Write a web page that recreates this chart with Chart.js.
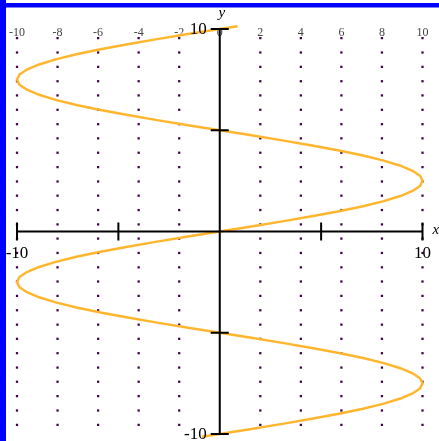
<!DOCTYPE html>
<html>
<head>
<meta charset="utf-8">
<script src="https://cdn.jsdelivr.net/npm/chart.js@4.4.1/dist/chart.umd.min.js"></script>
<style>
  html, body { margin: 0; padding: 0; background: #fff; overflow: hidden; }
  #plot { display: block; }
</style>
</head>
<body>
<canvas id="plot" width="439" height="441"></canvas>
<script>
  // curve samples (x against y), one point every 0.25 in y
  const curveY = [
    -10.14, -10, -9.75, -9.5, -9.25, -9, -8.75, -8.5, -8.25, -8, -7.75, -7.5, -7.25, -7, -6.75, -6.5, -6.25,
    -6, -5.75, -5.5, -5.25, -5, -4.75, -4.5, -4.25, -4, -3.75, -3.5, -3.25, -3, -2.75, -2.5, -2.25,
    -2, -1.75, -1.5, -1.25, -1, -0.75, -0.5, -0.25, 0,
    0.25, 0.5, 0.75, 1, 1.25, 1.5, 1.75, 2, 2.25, 2.5, 2.75, 3, 3.25, 3.5, 3.75, 4, 4.25, 4.5, 4.75,
    5, 5.25, 5.5, 5.75, 6, 6.25, 6.5, 6.75, 7, 7.25, 7.5, 7.75, 8, 8.25, 8.5, 8.75, 9, 9.25, 9.5, 9.75,
    10, 10.14
  ];
  const curveX = [
    -0.88, 0, 1.56, 3.09, 4.54, 5.88, 7.07, 8.09, 8.91, 9.51, 9.88, 10, 9.88, 9.51, 8.91, 8.09, 7.07,
    5.88, 4.54, 3.09, 1.56, 0, -1.56, -3.09, -4.54, -5.88, -7.07, -8.09, -8.91, -9.51, -9.88, -10, -9.88,
    -9.51, -8.91, -8.09, -7.07, -5.88, -4.54, -3.09, -1.56, 0,
    1.56, 3.09, 4.54, 5.88, 7.07, 8.09, 8.91, 9.51, 9.88, 10, 9.88, 9.51, 8.91, 8.09, 7.07, 5.88, 4.54, 3.09, 1.56,
    0, -1.56, -3.09, -4.54, -5.88, -7.07, -8.09, -8.91, -9.51, -9.88, -10, -9.88, -9.51, -8.91, -8.09, -7.07, -5.88,
    -4.54, -3.09, -1.56, 0, 0.88
  ];

  // dotted background grid
  const gridX = [-10, -8, -6, -4, -2, 2, 4, 6, 8, 10];
  const gridY = [
    9.55, 8.84, 8.13, 7.42, 6.72, 6.01, 5.30, 4.60, 3.89, 3.18, 2.47, 1.77, 1.06, 0.35,
    -0.35, -1.06, -1.77, -2.47, -3.18, -3.89, -4.60, -5.30, -6.01, -6.72, -7.42, -8.13, -8.84, -9.55
  ];

  // labels
  const topLabels = [-10, -8, -6, -4, -2, 0, 2, 4, 6, 8, 10];
  const axisTicks = [-10, -5, 5, 10];
  const axisEnds = [-10, 10];

  const dots = [];
  gridX.forEach(x => gridY.forEach(y => dots.push({ x, y })));
  const curve = curveX.map((x, i) => ({ x, y: curveY[i] }));

  const serif = '"Liberation Serif", "DejaVu Serif", serif';

  const frame = {
    id: 'frame',
    beforeDraw(chart) {
      const ctx = chart.ctx;
      ctx.save();
      ctx.fillStyle = '#fff';
      ctx.fillRect(0, 0, chart.width, chart.height);
      ctx.restore();
    },
    beforeDatasetsDraw(chart) {
      const { ctx, scales: { x, y } } = chart;
      ctx.save();
      ctx.fillStyle = '#444';
      ctx.font = '12px ' + serif;
      ctx.textAlign = 'center';
      ctx.textBaseline = 'middle';
      topLabels.forEach(v => {
        ctx.fillText(String(v), x.getPixelForValue(v), y.getPixelForValue(10) + 3.5);
      });
      ctx.restore();
    },
    afterDatasetsDraw(chart) {
      const { ctx, scales: { x, y } } = chart;
      const x0 = x.getPixelForValue(0);
      const y0 = y.getPixelForValue(0);
      ctx.save();
      ctx.strokeStyle = '#000';
      ctx.lineWidth = 2;
      ctx.beginPath();
      ctx.moveTo(x.getPixelForValue(-10), y0);
      ctx.lineTo(x.getPixelForValue(10), y0);
      ctx.moveTo(x0, y.getPixelForValue(10));
      ctx.lineTo(x0, y.getPixelForValue(-10));
      axisTicks.forEach(v => {
        const px = x.getPixelForValue(v);
        ctx.moveTo(px, y0 - 9);
        ctx.lineTo(px, y0 + 9);
        const py = y.getPixelForValue(v);
        ctx.moveTo(x0 - 9, py);
        ctx.lineTo(x0 + 9, py);
      });
      ctx.stroke();

      ctx.fillStyle = '#000';
      ctx.font = '17px ' + serif;
      ctx.textBaseline = 'middle';
      ctx.textAlign = 'center';
      axisEnds.forEach(v => {
        ctx.fillText(String(v), x.getPixelForValue(v), y0 + 22);
      });
      ctx.textAlign = 'right';
      axisEnds.forEach(v => {
        ctx.fillText(String(v), x0 - 13, y.getPixelForValue(v) + 1);
      });

      ctx.font = 'italic 15px ' + serif;
      ctx.textAlign = 'left';
      ctx.fillText('x', x.getPixelForValue(10) + 10, y0 - 1);
      ctx.textAlign = 'center';
      ctx.fillText('y', x0 + 2, y.getPixelForValue(10) - 16);

      // blue frame on the left and top
      ctx.fillStyle = '#0000ff';
      ctx.fillRect(0, 3, chart.width, 4.5);
      ctx.fillRect(0, 0, 6, chart.height);
      ctx.restore();
    }
  };

  new Chart(document.getElementById('plot'), {
    type: 'scatter',
    data: {
      datasets: [
        {
          data: curve,
          showLine: true,
          borderColor: '#ffb62e',
          borderWidth: 2.5,
          pointRadius: 0,
          tension: 0,
          clip: false,
          order: 1
        },
        {
          data: dots,
          pointStyle: 'rect',
          pointRadius: 1.6,
          pointBorderWidth: 0,
          backgroundColor: '#40004a',
          borderColor: '#40004a',
          clip: false,
          order: 2
        }
      ]
    },
    options: {
      responsive: false,
      animation: false,
      layout: { padding: { left: 17, right: 16.5, top: 29, bottom: 7 } },
      plugins: { legend: { display: false }, tooltip: { enabled: false } },
      scales: {
        x: { type: 'linear', min: -10, max: 10, display: false },
        y: { type: 'linear', min: -10, max: 10, display: false }
      }
    },
    plugins: [frame]
  });
</script>
</body>
</html>
